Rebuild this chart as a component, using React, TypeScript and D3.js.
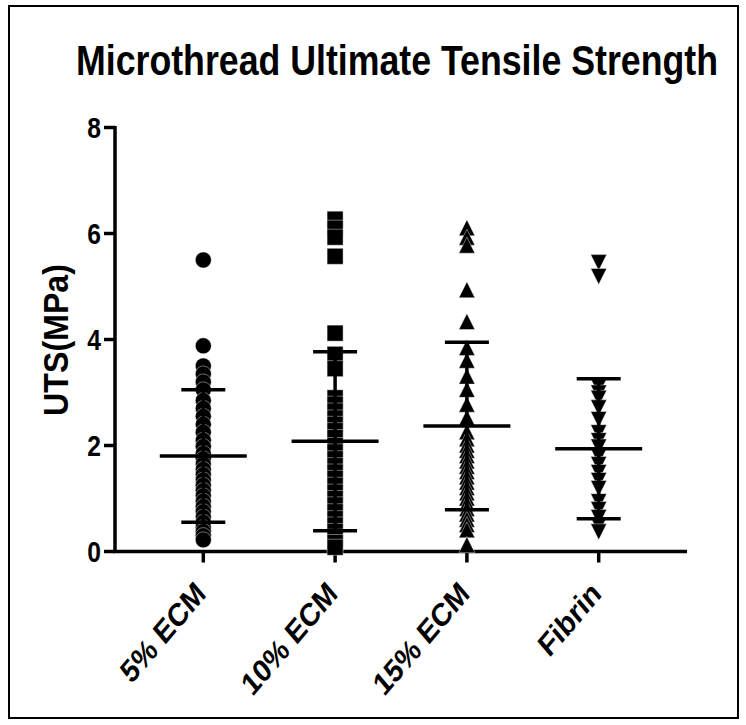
import React from "react";
import * as d3 from "d3";

// Groups and individual microthread UTS measurements (MPa)
const categories = ["5% ECM", "10% ECM", "15% ECM", "Fibrin"];
const ecm5 = [5.5, 3.88, 3.5, 3.35, 3.2, 3.05, 2.85, 2.7, 2.55, 2.4, 2.25, 2.1, 1.98, 1.85, 1.75, 1.65, 1.55, 1.45, 1.35, 1.25, 1.15, 1.05, 0.95, 0.85, 0.75, 0.65, 0.55, 0.45, 0.38, 0.3, 0.22];
const ecm10 = [6.27, 6.1, 5.93, 5.57, 4.12, 3.72, 3.45, 2.9, 2.78, 2.65, 2.52, 2.4, 2.28, 2.15, 2.0, 1.88, 1.75, 1.62, 1.5, 1.38, 1.25, 1.12, 1.0, 0.88, 0.75, 0.62, 0.5, 0.38, 0.27, 0.17, 0.08];
const ecm15 = [6.1, 5.92, 5.77, 4.93, 4.33, 3.84, 3.6, 3.3, 3.05, 2.77, 2.52, 2.25, 2.12, 2.0, 1.9, 1.8, 1.7, 1.6, 1.5, 1.4, 1.3, 1.2, 1.1, 1.0, 0.9, 0.8, 0.7, 0.6, 0.5, 0.4, 0.12];
const fibrin = [5.46, 5.2, 3.12, 3.0, 2.9, 2.72, 2.5, 2.25, 2.1, 1.98, 1.8, 1.65, 1.5, 1.35, 1.2, 0.95, 0.8, 0.65, 0.5, 0.38];

// Summary statistics (mean ± SD) per group
const groupMeans = [1.8, 2.08, 2.37, 1.94];
const groupSDs = [1.25, 1.69, 1.58, 1.32];

const yTicks = [0, 2, 4, 6, 8];

const FONT = "'Liberation Sans', Arial, Helvetica, sans-serif";
// text is drawn horizontally condensed
const SQUEEZE = 0.85;

type Shape = "circle" | "square" | "triangle" | "triangleDown";
const shapes: Shape[] = ["circle", "square", "triangle", "triangleDown"];

function markerPath(shape: Shape): string {
  const p = d3.path();
  if (shape === "circle") {
    p.arc(0, 0, 8, 0, Math.PI * 2);
  } else if (shape === "square") {
    p.rect(-8, -8, 16, 16);
  } else if (shape === "triangle") {
    p.moveTo(0, -8.5);
    p.lineTo(8, 7.5);
    p.lineTo(-8, 7.5);
    p.closePath();
  } else {
    p.moveTo(0, 8.5);
    p.lineTo(8, -7.5);
    p.lineTo(-8, -7.5);
    p.closePath();
  }
  return p.toString();
}

export default function App() {
  const width = 746;
  const height = 725;
  const axisLeft = 115;
  const axisRight = 687;
  const groups = [ecm5, ecm10, ecm15, fibrin];

  const y = d3.scaleLinear().domain([0, 8]).range([551.5, 127.5]);
  const x = d3.scalePoint<string>().domain(categories).range([axisLeft, axisRight]).padding(0.67);

  const stroke = 3.5;

  return (
    <svg
      width={width}
      height={height}
      style={{ position: "absolute", left: 0, top: 0, background: "#fff" }}
      fontFamily={FONT}
      fontWeight="bold"
    >
      <rect x={9} y={6} width={729} height={712} fill="#fff" stroke="#000" strokeWidth={2} />

      {/* title */}
      <text
        transform={`translate(397,75) scale(${SQUEEZE},1)`}
        textAnchor="middle"
        fontSize={42}
        fill="#000"
      >
        Microthread Ultimate Tensile Strength
      </text>

      {/* y axis */}
      <line x1={axisLeft} x2={axisLeft} y1={y(8) - 1.5} y2={y(0)} stroke="#000" strokeWidth={stroke} />
      {yTicks.map((t) => (
        <g key={t}>
          <line x1={axisLeft - 11} x2={axisLeft} y1={y(t)} y2={y(t)} stroke="#000" strokeWidth={stroke} />
          <text
            transform={`translate(${axisLeft - 14},${y(t) + 10}) scale(${SQUEEZE},1)`}
            textAnchor="end"
            fontSize={29}
            fill="#000"
          >
            {t}
          </text>
        </g>
      ))}
      <text
        transform={`translate(68,340) rotate(-90) scale(0.92,1)`}
        textAnchor="middle"
        fontSize={35}
        fill="#000"
      >
        UTS(MPa)
      </text>

      {/* x axis */}
      <line x1={axisLeft - 1.75} x2={axisRight} y1={y(0)} y2={y(0)} stroke="#000" strokeWidth={stroke} />
      {categories.map((c) => (
        <g key={c}>
          <line x1={x(c)!} x2={x(c)!} y1={y(0)} y2={y(0) + 11} stroke="#000" strokeWidth={stroke} />
          <text
            transform={`translate(${x(c)! + 4},${y(0) + 44}) scale(${SQUEEZE},1) rotate(-45)`}
            textAnchor="end"
            fontSize={32}
            fill="#000"
          >
            {c}
          </text>
        </g>
      ))}

      {/* points */}
      {groups.map((vals, gi) => {
        const cx = x(categories[gi])!;
        const d = markerPath(shapes[gi]);
        return (
          <g key={gi}>
            {vals.map((v, i) => (
              <path
                key={i}
                d={d}
                transform={`translate(${cx},${y(v)})`}
                fill="#000"
                stroke="#fff"
                strokeWidth={0.6}
                strokeOpacity={0.7}
              />
            ))}
          </g>
        );
      })}

      {/* mean and SD bars */}
      {categories.map((c, gi) => {
        const cx = x(c)!;
        const m = groupMeans[gi];
        const sd = groupSDs[gi];
        return (
          <g key={c} stroke="#000" strokeWidth={stroke}>
            <line x1={cx} x2={cx} y1={y(m + sd)} y2={y(m - sd)} />
            <line x1={cx - 43.5} x2={cx + 43.5} y1={y(m)} y2={y(m)} />
            <line x1={cx - 22} x2={cx + 22} y1={y(m + sd)} y2={y(m + sd)} />
            <line x1={cx - 22} x2={cx + 22} y1={y(m - sd)} y2={y(m - sd)} />
          </g>
        );
      })}
    </svg>
  );
}
